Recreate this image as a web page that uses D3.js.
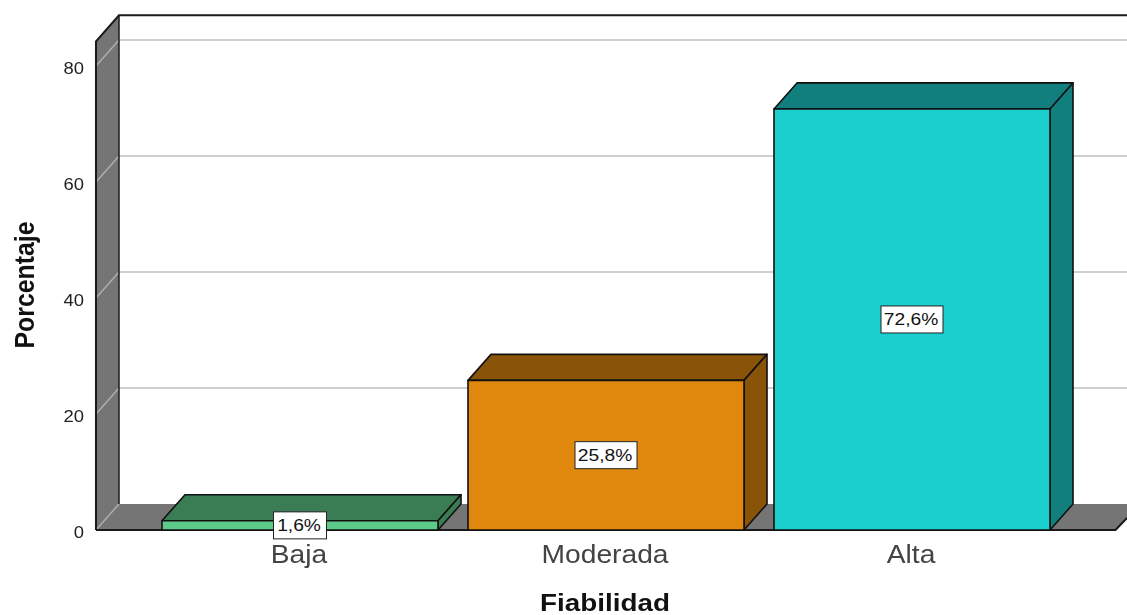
<!DOCTYPE html>
<html><head><meta charset="utf-8">
<script src="https://cdn.jsdelivr.net/npm/d3@7"></script>
<style>
html,body{margin:0;padding:0;background:#fff;overflow:hidden}
svg{display:block;filter:blur(0.35px)}
text{font-family:"Liberation Sans",Arial,sans-serif}
</style></head><body>
<svg id="c" width="1127" height="615"></svg>
<script>
const categories = ["Baja","Moderada","Alta"];
const values = [1.6,25.8,72.6];
const valueLabels = ["1,6%","25,8%","72,6%"];
const frontColors = ["#5ccb8a","#e0880e","#1bcfcf"];
const sideColors = ["#3a7d55","#8a5408","#127f7f"];
const yTicks = [0,20,40,60,80];
const xTitle = "Fiabilidad", yTitle = "Porcentaje";

const svg = d3.select("#c");
const dx = 23, dy = -26;
const x = d3.scaleBand().domain(categories).range([147,1065]).paddingInner(0.098).paddingOuter(0.049);
const y = d3.scaleLinear().domain([0,80]).range([530,66]);
const yTop = y(84.25);
const left = 96, right = 1150;
const line = d3.line();
const poly = pts => line(pts)+"Z";
// adjust text run length, keeping its height, as in the reference
const stretch = (sel,k) => sel.each(function(){
  const n = d3.select(this);
  n.attr("lengthAdjust","spacingAndGlyphs").attr("textLength",this.getComputedTextLength()*k);
});

// floor and wall
svg.append("path").attr("d",poly([[left,530],[left+dx,530+dy],[right+dx,530+dy],[right,530]]))
  .attr("fill","#757575");
svg.append("path").attr("d",poly([[1115.5,530],[1140,504],[1140,530]])).attr("fill","#fff");
svg.append("path").attr("d",poly([[left,530],[left,yTop],[left+dx,yTop+dy],[left+dx,530+dy]]))
  .attr("fill","#757575");

// gridlines: thin on the wall, wider on the back plane
const grid = svg.append("g").attr("fill","none");
grid.selectAll("path.w").data(yTicks).join("path").attr("class","w")
  .attr("d",d=>line([[left,y(d)],[left+dx,y(d)+dy]]))
  .attr("stroke","#b0b0b0").attr("stroke-width",1.4);
grid.selectAll("path.b").data(yTicks.slice(1)).join("path").attr("class","b")
  .attr("d",d=>line([[left+dx,y(d)+dy],[1127,y(d)+dy]]))
  .attr("stroke","#cfcfcf").attr("stroke-width",2);

// frame
svg.append("path").attr("d",line([[left,530],[left,yTop],[left+dx,yTop+dy],[1127,yTop+dy]]))
  .attr("fill","none").attr("stroke","#1a1a1a").attr("stroke-width",2);
svg.append("path").attr("d",line([[left+dx,yTop+dy],[left+dx,530+dy]]))
  .attr("fill","none").attr("stroke","#1a1a1a").attr("stroke-width",1.5);
svg.append("path").attr("d",line([[left,530],[1115.5,530],[1127,518]]))
  .attr("fill","none").attr("stroke","#1a1a1a").attr("stroke-width",2);

// bars
const data = categories.map((c,i)=>({c,i,v:values[i]}));
const bars = svg.append("g").selectAll("g").data(data).join("g")
  .attr("stroke","#111").attr("stroke-width",1.6).attr("stroke-linejoin","round");
bars.append("path").attr("fill",d=>sideColors[d.i]).attr("d",d=>{
  const l=x(d.c),r=l+x.bandwidth(),t=y(d.v);
  return poly([[l,t],[l+dx,t+dy],[r+dx,t+dy],[r,t]]);
});
bars.append("path").attr("fill",d=>sideColors[d.i]).attr("d",d=>{
  const r=x(d.c)+x.bandwidth(),t=y(d.v),b=y(0);
  return poly([[r,t],[r+dx,t+dy],[r+dx,b+dy],[r,b]]);
});
bars.append("rect").attr("fill",d=>frontColors[d.i])
  .attr("x",d=>x(d.c)).attr("y",d=>y(d.v))
  .attr("width",x.bandwidth()).attr("height",d=>y(0)-y(d.v));

// value labels
const lab = svg.append("g").selectAll("g").data(data).join("g")
  .attr("transform",d=>`translate(${x(d.c)+x.bandwidth()/2},${y(d.v/2)})`);
lab.append("rect").attr("x",d=>d.i===0?-26.5:-31).attr("y",-13.5)
  .attr("width",d=>d.i===0?53:62).attr("height",27)
  .attr("fill","#fff").attr("stroke","#222").attr("stroke-width",1);
lab.append("text").attr("text-anchor","middle").attr("x",-1).attr("y",6).attr("font-size",16)
  .attr("fill","#111").text(d=>valueLabels[d.i]).call(stretch,1.2);

// y axis
const ax = svg.append("g").attr("transform",`translate(${left},2)`)
  .call(d3.axisLeft(y).tickValues(yTicks).tickSize(0).tickPadding(12));
ax.select(".domain").remove();
ax.selectAll("text").attr("font-size",16).attr("fill","#222")
  .style("font-family",'"Liberation Sans",Arial,sans-serif').call(stretch,1.15);

// x axis
const xa = svg.append("g").attr("transform","translate(-1,532)")
  .call(d3.axisBottom(x).tickSize(0).tickPadding(13));
xa.select(".domain").remove();
xa.selectAll("text").attr("font-size",26).attr("fill","#444")
  .style("font-family",'"Liberation Sans",Arial,sans-serif').call(stretch,1.085);

svg.append("text").attr("x",605).attr("y",611).attr("text-anchor","middle")
  .attr("font-size",23).attr("font-weight","bold").attr("fill","#111").text(xTitle).call(stretch,1.21);
svg.append("text").attr("transform","translate(34,285) rotate(-90)").attr("text-anchor","middle")
  .attr("font-size",27).attr("font-weight","bold").attr("fill","#111").text(yTitle).call(stretch,0.92);
</script>
</body></html>
